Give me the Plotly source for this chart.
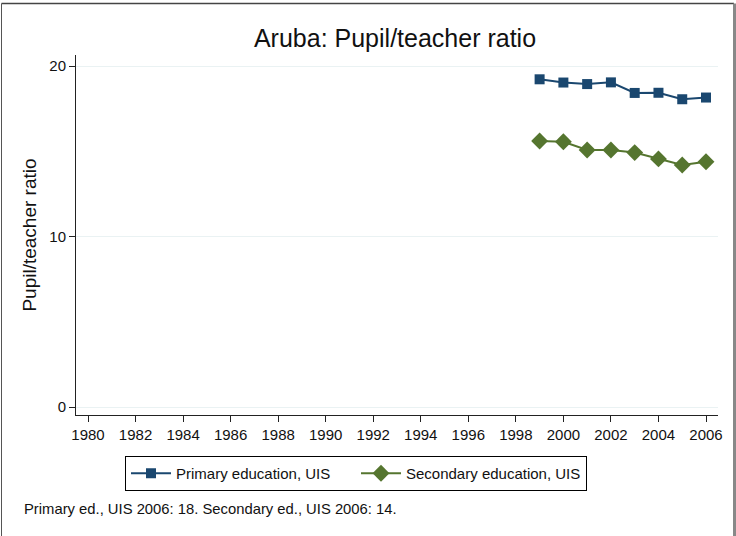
import plotly.graph_objects as go

years = [1999, 2000, 2001, 2002, 2003, 2004, 2005, 2006]
primary = [19.22, 19.03, 18.94, 19.04, 18.42, 18.43, 18.05, 18.15]
secondary = [15.6, 15.56, 15.07, 15.07, 14.92, 14.55, 14.19, 14.38]
x_ticks = list(range(1980, 2007, 2))
y_ticks = [0, 10, 20]

W, H = 736, 536
L, R, T, B = 76, 18, 55, 121
pw, ph = W - L - R, H - T - B

def px(xp):
    return (xp - L) / pw

def py(yp):
    return (H - B - yp) / ph

fig = go.Figure()
fig.add_trace(go.Scatter(
    x=years, y=primary, mode="lines+markers", name="Primary education, UIS",
    line=dict(color="#1a476f", width=2),
    marker=dict(symbol="square", size=10, color="#1a476f"),
))
fig.add_trace(go.Scatter(
    x=years, y=secondary, mode="lines+markers", name="Secondary education, UIS",
    line=dict(color="#55752f", width=2),
    marker=dict(symbol="diamond", size=13, color="#55752f"),
))

fig.update_layout(
    width=W, height=H,
    margin=dict(l=L, r=R, t=T, b=B, pad=0),
    paper_bgcolor="white", plot_bgcolor="white",
    font=dict(family="Liberation Sans, Arial, sans-serif", color="#111111", size=14),
    title=dict(text="Aruba: Pupil/teacher ratio", xref="container", x=395 / W, xanchor="center",
               y=1 - 38 / H, yanchor="middle", font=dict(size=25, color="#111111")),
    showlegend=True,
    legend=dict(orientation="h", x=px(356), xanchor="center", y=py(456), yanchor="top",
                bordercolor="black", borderwidth=1, bgcolor="white",
                font=dict(size=15), entrywidth=175, itemwidth=40,
                traceorder="normal"),
    xaxis=dict(range=[1979.495, 2006.505], tickvals=x_ticks, showgrid=False,
               showline=True, linecolor="#222", linewidth=1, ticks="outside",
               ticklen=6, tickcolor="#222", zeroline=False, tickfont=dict(size=15)),
    yaxis=dict(range=[-0.469, 20.645], tickvals=y_ticks, showgrid=True,
               gridcolor="#eaf2f3", gridwidth=1, showline=True, linecolor="#222",
               linewidth=1, ticks="outside", ticklen=6, tickcolor="#222",
               zeroline=False, tickfont=dict(size=15),
               title=dict(text="Pupil/teacher ratio", font=dict(size=19), standoff=7)),
)

fig.add_annotation(text="Primary ed., UIS 2006: 18. Secondary ed., UIS 2006: 14.",
                   xref="paper", yref="paper", x=px(22), y=py(509),
                   xanchor="left", yanchor="middle", showarrow=False,
                   font=dict(size=14.8, color="#111111"))

# outer frame
fig.add_shape(type="line", xref="paper", yref="paper",
              x0=px(1.5), x1=px(734), y0=py(3.5), y1=py(3.5),
              line=dict(color="#444", width=1.5), layer="below")
fig.add_shape(type="line", xref="paper", yref="paper",
              x0=px(1.5), x1=px(1.5), y0=py(545), y1=py(3.5),
              line=dict(color="#555", width=1), layer="below")
fig.add_shape(type="line", xref="paper", yref="paper",
              x0=px(734.5), x1=px(734.5), y0=py(545), y1=py(3.5),
              line=dict(color="#888", width=3), layer="below")

fig.write_html("out.html", config={"displayModeBar": False},
               post_script="document.body.style.margin='0';document.body.style.padding='0';")
